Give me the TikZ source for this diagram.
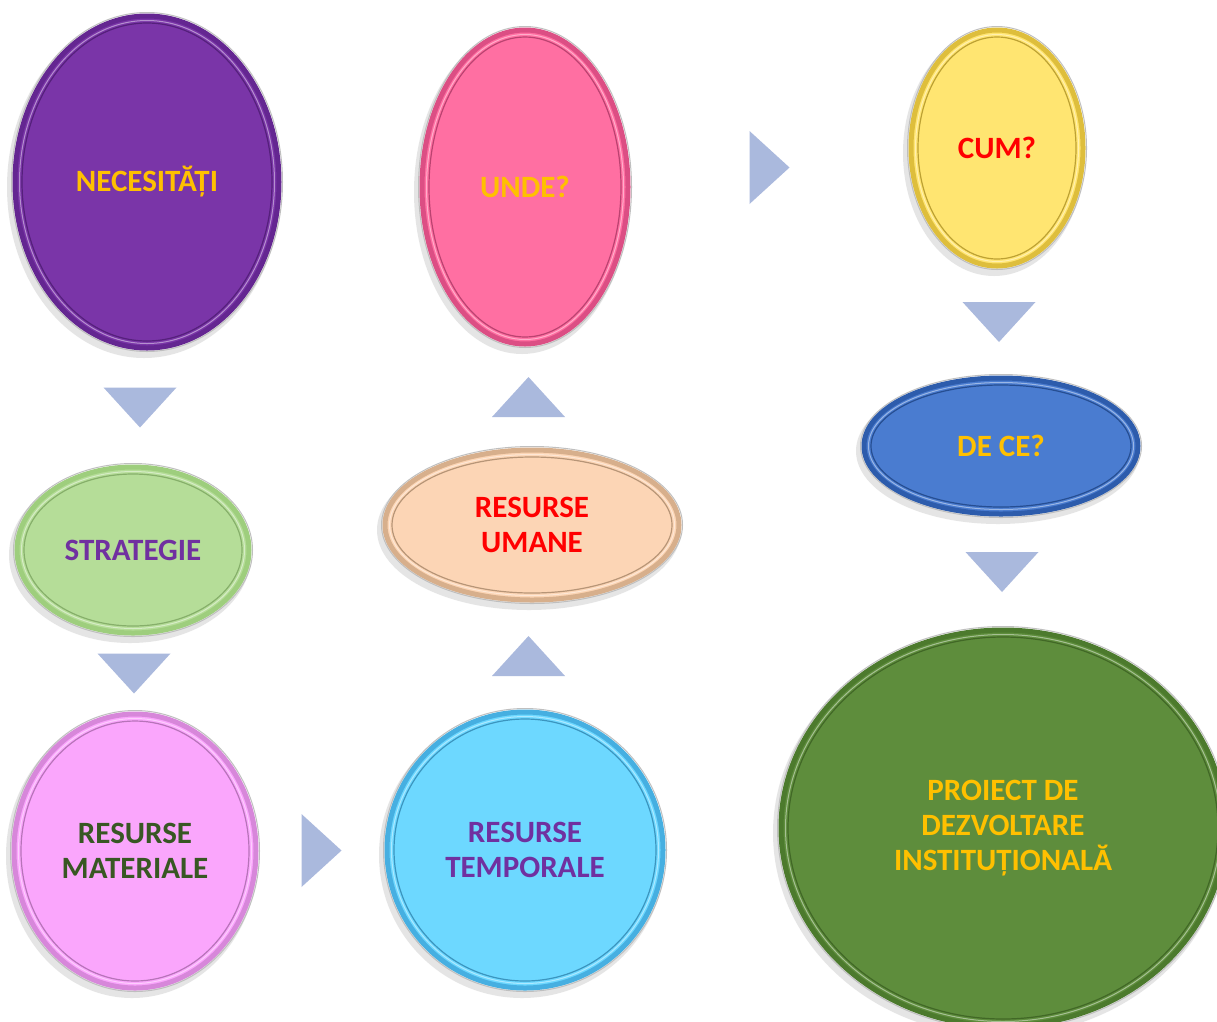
\documentclass[tikz,border=0pt]{standalone}
\usepackage{fontspec}
\setmainfont{Carlito}
\usetikzlibrary{shapes.geometric,calc}
\definecolor{tricol}{RGB}{170,185,221}
\definecolor{gold}{RGB}{255,192,0}
\definecolor{purp}{RGB}{112,48,160}
\definecolor{dgreen}{RGB}{56,87,35}
\definecolor{necF}{RGB}{122,53,168}\definecolor{necR}{RGB}{100,38,145}
\definecolor{strF}{RGB}{181,221,152}\definecolor{strR}{RGB}{158,206,125}
\definecolor{matF}{RGB}{250,166,252}\definecolor{matR}{RGB}{215,135,218}
\definecolor{temF}{RGB}{109,216,255}\definecolor{temR}{RGB}{70,175,225}
\definecolor{umaF}{RGB}{252,213,181}\definecolor{umaR}{RGB}{215,175,140}
\definecolor{undF}{RGB}{255,111,162}\definecolor{undR}{RGB}{220,78,132}
\definecolor{cumF}{RGB}{255,229,113}\definecolor{cumR}{RGB}{222,190,60}
\definecolor{decF}{RGB}{74,124,208}\definecolor{decR}{RGB}{45,92,172}
\definecolor{proF}{RGB}{94,141,60}\definecolor{proR}{RGB}{76,122,45}
\tikzset{
  bub/.style={ellipse, inner sep=0pt, line width=5pt, align=center,
    font=\fontsize{31}{35}\selectfont\bfseries},
  shade/.style={fill=black!20, opacity=0.5},
  tri/.pic={\fill[tricol] (-20,-36.5) -- (20,0) -- (-20,36.5) -- cycle;}
}
% #1 name, #2 x, #3 y, #4 rx, #5 ry, #6 fill, #7 rim, #8 text colour, #9 text
\newcommand\bubble[9]{%
  \fill[shade] (#2-3,#3+5) ellipse [x radius=#4pt+3pt, y radius=#5pt+3pt];
  \draw[black!25, line width=1pt] (#2,#3) ellipse [x radius=#4pt+1.5pt, y radius=#5pt+1.5pt];
  \node[bub, minimum width=2*#4pt-4pt, minimum height=2*#5pt-4pt, fill=#6, draw=#7, text=#8] (#1) at (#2,#3) {#9};
  \draw[#7!85!black, line width=1.2pt] (#1.center) ellipse [x radius=#4pt-9pt, y radius=#5pt-9pt];
  \draw[white, opacity=.45, line width=1pt] (#1.center) ellipse [x radius=#4pt-6.5pt, y radius=#5pt-6.5pt];
}
\begin{document}
\begin{tikzpicture}[x=1pt,y=-1pt]
\useasboundingbox (0,0) rectangle (1217,1021);
\fill[white] (0,0) rectangle (1217,1021);

\bubble{nec}{147}{182}{134}{168}{necF}{necR}{gold}{NECESITĂȚI}
\bubble{str}{133}{550}{118}{85}{strF}{strR}{purp}{STRATEGIE}
\bubble{mat}{135}{851}{123}{139}{matF}{matR}{dgreen}{RESURSE\\MATERIALE}
\bubble{tem}{525}{850}{140}{140}{temF}{temR}{purp}{RESURSE\\TEMPORALE}
\bubble{uma}{532}{525}{149}{77}{umaF}{umaR}{red}{RESURSE\\UMANE}
\bubble{und}{525}{187}{105}{159}{undF}{undR}{gold}{UNDE?}
\bubble{cum}{997}{148}{88}{120}{cumF}{cumR}{red}{CUM?}
\bubble{dec}{1001}{446}{139}{70}{decF}{decR}{gold}{DE CE?}
\bubble{pro}{1003}{828}{224}{200}{proF}{proR}{gold}{PROIECT DE\\DEZVOLTARE\\INSTITUȚIONALĂ}

\pic[rotate=-90] at ($(nec.south)!0.5!(str.north)$) {tri};
\pic[rotate=-90] at ($(str.south)!0.5!(mat.north)$) {tri};
\pic at ($(mat.east)!0.5!(tem.west)$) {tri};
\pic[rotate=90] at ($(tem.north)!0.5!(uma.south)$) {tri};
\pic[rotate=90] at ($(uma.north)!0.5!(und.south)$) {tri};
\pic at ($(und.east)!0.5!(cum.west)$) {tri};
\pic[rotate=-90] at ($(cum.south)!0.5!(dec.north)$) {tri};
\pic[rotate=-90] at ($(dec.south)!0.5!(pro.north)$) {tri};
\end{tikzpicture}
\end{document}
